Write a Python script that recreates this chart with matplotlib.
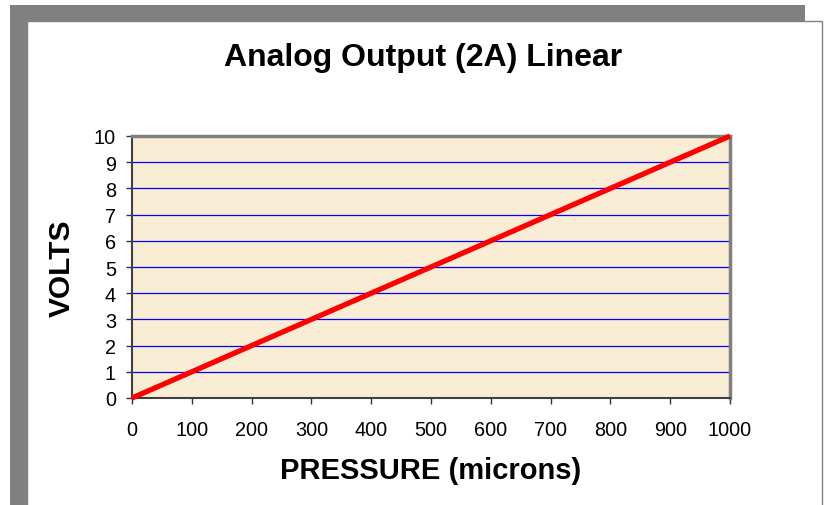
import matplotlib
matplotlib.use("Agg")
import matplotlib.pyplot as plt
from matplotlib.patches import Rectangle

pressure = [0, 1000]
volts = [0, 10]
x_ticks = [0, 100, 200, 300, 400, 500, 600, 700, 800, 900, 1000]
y_ticks = [0, 1, 2, 3, 4, 5, 6, 7, 8, 9, 10]
title = "Analog Output (2A) Linear"
xlabel = "PRESSURE (microns)"
ylabel = "VOLTS"

plt.rcParams['font.family'] = ['Liberation Sans', 'DejaVu Sans']

W, H = 826, 506
fig = plt.figure(figsize=(W / 100, H / 100), dpi=100)
fig.patch.set_facecolor("white")

# shadow and panel
fig.patches.append(Rectangle((10 / W, 0), 795 / W, 500 / H, transform=fig.transFigure,
                             facecolor="#808080", edgecolor="none", zorder=-10))
fig.patches.append(Rectangle((27 / W, -0.01), 795 / W, 484 / H + 0.01, transform=fig.transFigure,
                             facecolor="white", edgecolor="#808080", linewidth=1, zorder=-9))

ax = fig.add_axes([132 / W, (H - 399) / H, 598 / W, 262 / H])
ax.set_facecolor("#FAEDD5")
ax.set_xlim(0, 1000)
ax.set_ylim(0, 10)
ax.set_xticks(x_ticks)
ax.set_yticks(y_ticks)
ax.set_xticklabels([str(v) for v in x_ticks], fontsize=14.3)
ax.set_yticklabels([str(v) for v in y_ticks], fontsize=14.3)
ax.tick_params(axis="both", direction="out", length=4.5, width=1, color="#333333")
ax.tick_params(axis="y", pad=7)
ax.tick_params(axis="x", pad=11)
ax.grid(axis="y", color="#0000FF", linewidth=0.9)
ax.set_axisbelow(True)

for s in ["top", "right"]:
    ax.spines[s].set_color("#808080")
    ax.spines[s].set_linewidth(2.5)
for s in ["left", "bottom"]:
    ax.spines[s].set_color("#404040")
    ax.spines[s].set_linewidth(1.5)

ax.plot(pressure, volts, color="#FF0000", linewidth=3.8, solid_capstyle="butt", clip_on=False, zorder=3)

fig.text(423 / W, 1 - 58 / H, title, ha="center", va="center", fontsize=23, fontweight="bold")
fig.text(431 / W, 1 - 471 / H, xlabel, ha="center", va="center", fontsize=21, fontweight="bold")
fig.text(62 / W, 1 - 268 / H, ylabel, ha="center", va="center", fontsize=21.5, fontweight="bold", rotation=90)

fig.savefig("out.png", dpi=100)
